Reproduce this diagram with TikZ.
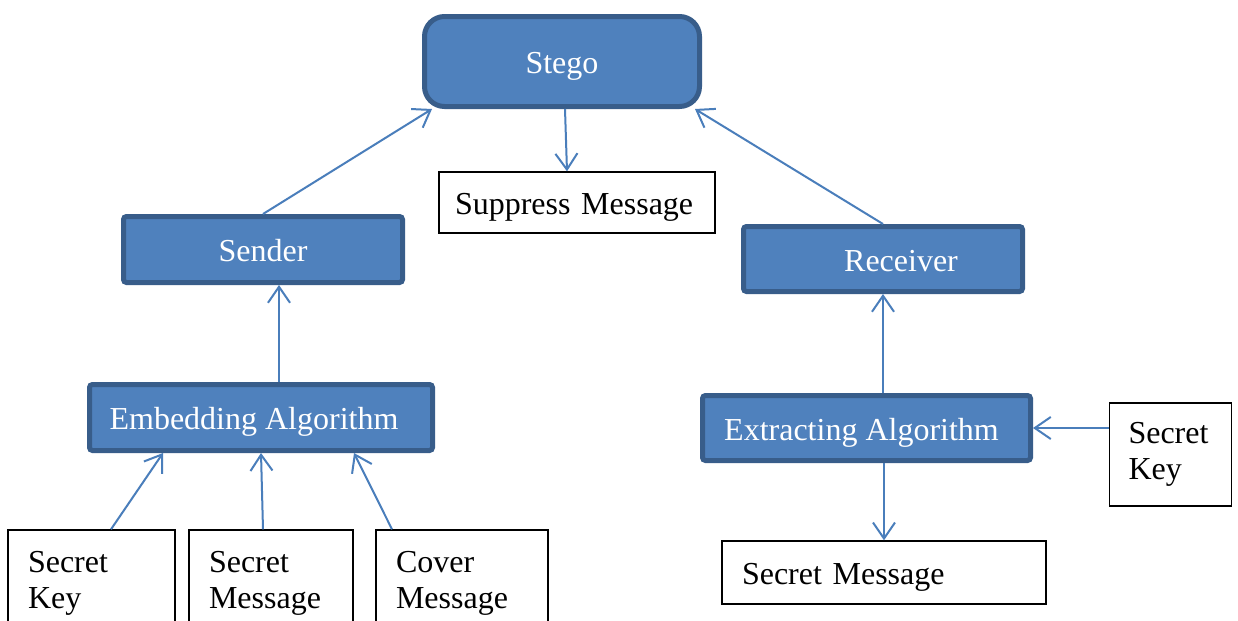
\documentclass[tikz,border=0pt]{standalone}
\usepackage{fontspec}
\setmainfont{Liberation Serif}
\usetikzlibrary{arrows.meta}
\definecolor{boxfill}{HTML}{4F81BD}
\definecolor{boxedge}{HTML}{385D8A}
\definecolor{arrowblue}{HTML}{4A7EBB}
\tikzset{
  bluebox/.style={draw=boxedge, fill=boxfill, line width=2.5pt, text=white,
    rounded corners=1.5pt, inner sep=0pt, text height=12pt, text depth=0pt,
    font=\fontsize{16}{19}\selectfont},
  whitebox/.style={draw=black, fill=white, line width=0.7pt, inner xsep=10pt,
    inner ysep=0pt, align=left, font=\fontsize{16}{18}\selectfont},
  oneline/.style={text height=12pt, text depth=0pt},
  arr/.style={draw=arrowblue, line width=1pt, -{Straight Barb[length=8pt,width=11pt]}}
}
\begin{document}
\begin{tikzpicture}[x=0.5pt,y=-0.5pt]
  \fill[white] (0,0) rectangle (1238,621);
  \clip (0,0) rectangle (1238,621);

  % process boxes
  \node[bluebox, rounded corners=10pt, minimum width=137.5pt, minimum height=45pt]
    (stego) at (562,61.5) {Stego};
  \node[bluebox, minimum width=139.5pt, minimum height=33pt]
    (sender) at (263,249.5) {Sender};
  \node[bluebox, minimum width=139.5pt, minimum height=32.5pt]
    (receiver) at (883,259) {\hspace*{18pt}Receiver};
  \node[bluebox, minimum width=171.5pt, minimum height=33pt]
    (emb) at (261,417.5) {Embedding Algorithm\hspace*{7pt}};
  \node[bluebox, minimum width=164pt, minimum height=32.5pt]
    (ext) at (866.5,428) {Extracting Algorithm\hspace*{5pt}};

  % data boxes
  \node[whitebox, oneline, inner xsep=8pt, text width=122pt, minimum height=30.5pt]
    (suppress) at (577,202.5) {Suppress Message};
  \node[whitebox, inner xsep=9.5pt, text width=42pt, minimum height=51.5pt]
    (keyR) at (1170.5,454.5) {Secret\\Key};
  \node[whitebox, oneline, text width=142pt, minimum height=31.5pt]
    (msgR) at (884,572.5) {Secret Message};
  \node[whitebox, text width=63.5pt, minimum height=53pt]
    (keyL) at (91.5,583) {Secret\\Key};
  \node[whitebox, text width=62pt, minimum height=53pt]
    (msgL) at (271,583) {Secret\\Message};
  \node[whitebox, text width=66pt, minimum height=53pt]
    (cover) at (462,583) {Cover\\Message};

  % connectors
  \draw[arr] (sender.north) -- ([xshift=5pt]stego.south west);
  \draw[arr] ([xshift=1.5pt]stego.south) -- ([xshift=-5pt]suppress.north);
  \draw[arr] (receiver.north) -- ([xshift=-3.5pt]stego.south east);
  \draw[arr] ([xshift=9pt]emb.north) -- ([xshift=8pt]sender.south);
  \draw[arr] (receiver.south |- ext.north) -- (receiver.south);
  \draw[arr] (keyR.west |- ext.east) -- (ext.east);
  \draw[arr] (ext.south -| msgR.north) -- (msgR.north);
  \draw[arr] ([xshift=9.75pt]keyL.north) -- ([xshift=-49pt]emb.south);
  \draw[arr] ([xshift=-4pt]msgL.north) -- (emb.south);
  \draw[arr] ([xshift=-35pt]cover.north) -- ([xshift=46.5pt]emb.south);
\end{tikzpicture}
\end{document}
